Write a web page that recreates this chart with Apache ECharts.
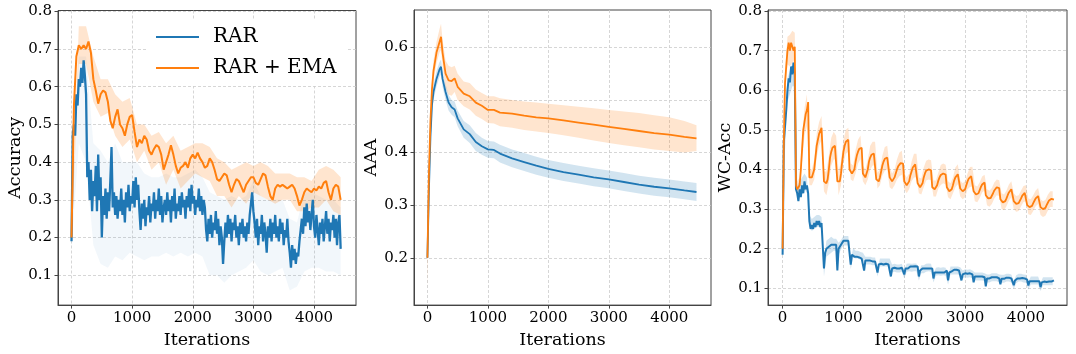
<!DOCTYPE html>
<html><head><meta charset="utf-8">
<script src="https://cdn.jsdelivr.net/npm/echarts@6/dist/echarts.min.js"></script>
<style>html,body{margin:0;padding:0;background:#fff}#c{width:1076px;height:354px}</style>
</head><body><div id="c"></div>
<script>
// ---------- tick labels ----------
const X_TICKS = [0, 1000, 2000, 3000, 4000];
const ACC_YTICKS = [0.1, 0.2, 0.3, 0.4, 0.5, 0.6, 0.7, 0.8];
const AAA_YTICKS = [0.2, 0.3, 0.4, 0.5, 0.6];
const WC_YTICKS = [0.1, 0.2, 0.3, 0.4, 0.5, 0.6, 0.7, 0.8];
const Y_NAMES = ['Accuracy', 'AAA', 'WC-Acc'];
const X_NAME = 'Iterations';
const SERIES_NAMES = ['RAR', 'RAR + EMA'];

// ---------- Accuracy (panel 1) ----------
// RAR mean, iterations 0..4440 every 20
const ACC_RAR_STEP = 20;
const ACC_RAR = [
0.19,0.47,0.50,0.47,0.58,0.55,0.62,0.60,0.65,0.61,
0.67,0.63,0.58,0.36,0.40,0.30,0.38,0.27,0.35,0.31,
0.39,0.27,0.42,0.30,0.36,0.20,0.31,0.26,0.33,0.25,
0.32,0.27,0.35,0.44,0.28,0.32,0.26,0.31,0.25,0.30,
0.27,0.33,0.26,0.30,0.24,0.32,0.28,0.34,0.27,0.31,
0.29,0.35,0.28,0.36,0.30,0.34,0.27,0.22,0.29,0.25,
0.30,0.23,0.28,0.26,0.31,0.24,0.29,0.27,0.32,0.25,
0.30,0.27,0.33,0.26,0.31,0.24,0.28,0.30,0.26,0.32,
0.27,0.30,0.24,0.31,0.27,0.33,0.25,0.29,0.27,0.31,
0.26,0.32,0.28,0.30,0.25,0.31,0.28,0.33,0.27,0.34,
0.29,0.31,0.26,0.30,0.28,0.33,0.27,0.31,0.26,0.30,
0.28,0.22,0.19,0.25,0.21,0.26,0.20,0.24,0.22,0.27,
0.21,0.25,0.18,0.23,0.20,0.13,0.19,0.24,0.20,0.26,
0.21,0.25,0.19,0.24,0.22,0.26,0.20,0.23,0.18,0.24,
0.21,0.25,0.20,0.23,0.19,0.24,0.21,0.26,0.29,0.32,
0.27,0.24,0.20,0.25,0.18,0.23,0.21,0.26,0.19,0.24,
0.21,0.16,0.23,0.20,0.25,0.19,0.24,0.21,0.26,0.20,
0.23,0.19,0.25,0.21,0.24,0.18,0.22,0.20,0.25,0.19,
0.16,0.12,0.18,0.14,0.17,0.13,0.16,0.15,0.19,0.22,
0.25,0.21,0.28,0.23,0.29,0.24,0.27,0.22,0.26,0.30,
0.23,0.20,0.26,0.22,0.18,0.24,0.21,0.25,0.19,0.23,
0.27,0.21,0.25,0.19,0.24,0.22,0.26,0.20,0.25,0.18,
0.24,0.26,0.17];
// RAR + EMA mean, iterations 0..4440 every 40
const ACC_EMA_STEP = 40;
const ACC_EMA = [
0.20,0.55,0.68,0.71,0.70,0.71,0.70,0.72,0.69,0.62,
0.59,0.555,0.58,0.59,0.585,0.56,0.51,0.49,0.52,0.54,
0.50,0.49,0.47,0.50,0.52,0.525,0.48,0.44,0.46,0.45,
0.47,0.46,0.43,0.42,0.435,0.445,0.44,0.42,0.38,0.40,
0.42,0.445,0.42,0.39,0.37,0.385,0.39,0.40,0.385,0.41,
0.42,0.41,0.425,0.41,0.40,0.385,0.39,0.41,0.40,0.38,
0.355,0.35,0.36,0.37,0.365,0.34,0.32,0.34,0.355,0.35,
0.335,0.32,0.34,0.35,0.36,0.36,0.345,0.34,0.355,0.37,
0.365,0.335,0.31,0.30,0.33,0.34,0.335,0.34,0.335,0.33,
0.335,0.34,0.33,0.31,0.285,0.30,0.32,0.33,0.325,0.32,
0.33,0.325,0.335,0.33,0.345,0.35,0.32,0.30,0.33,0.34,
0.335,0.30];
// shaded bands, iterations 0..4440 every 120
const ACC_BAND_STEP = 120;
const ACC_RAR_HI = [0.20,0.68,0.68,0.45,0.43,0.40,0.45,0.40,0.40,0.40,0.37,0.36,0.36,0.37,0.36,0.36,0.37,0.38,0.36,0.32,0.31,0.30,0.31,0.30,0.31,0.35,0.31,0.30,0.30,0.30,0.25,0.24,0.32,0.32,0.31,0.30,0.30,0.28];
const ACC_RAR_LO = [0.17,0.45,0.40,0.18,0.13,0.12,0.15,0.14,0.16,0.15,0.14,0.15,0.15,0.16,0.15,0.16,0.15,0.16,0.15,0.10,0.10,0.08,0.10,0.11,0.12,0.14,0.11,0.10,0.11,0.12,0.06,0.07,0.11,0.12,0.12,0.11,0.11,0.10];
const ACC_EMA_HI = [0.21,0.76,0.76,0.68,0.62,0.62,0.58,0.56,0.57,0.50,0.50,0.47,0.48,0.45,0.47,0.43,0.44,0.45,0.45,0.44,0.41,0.40,0.38,0.39,0.40,0.39,0.40,0.39,0.37,0.37,0.37,0.36,0.36,0.35,0.38,0.39,0.38,0.36];
const ACC_EMA_LO = [0.19,0.66,0.66,0.56,0.52,0.53,0.47,0.44,0.46,0.40,0.43,0.38,0.40,0.34,0.38,0.33,0.35,0.37,0.36,0.35,0.31,0.31,0.28,0.31,0.29,0.32,0.31,0.30,0.29,0.30,0.30,0.27,0.27,0.28,0.28,0.30,0.27,0.26];

// ---------- AAA (panel 2) ----------
const AAA_X = [0,25,50,75,100,150,200,225,250,300,350,400,450,500,600,700,800,900,1000,1100,1200,1400,1600,1800,2000,2250,2500,2750,3000,3250,3500,3750,4000,4250,4450];
const AAA_RAR = [0.20,0.33,0.43,0.49,0.515,0.54,0.558,0.563,0.54,0.515,0.495,0.486,0.482,0.465,0.444,0.435,0.42,0.412,0.406,0.405,0.398,0.389,0.382,0.375,0.369,0.363,0.358,0.353,0.349,0.344,0.339,0.335,0.332,0.328,0.325];
const AAA_RAR_HI = [0.21,0.345,0.445,0.505,0.53,0.555,0.572,0.577,0.555,0.53,0.51,0.50,0.497,0.48,0.46,0.452,0.437,0.428,0.422,0.421,0.415,0.406,0.399,0.392,0.386,0.38,0.375,0.37,0.366,0.361,0.356,0.352,0.349,0.345,0.342];
const AAA_RAR_LO = [0.19,0.315,0.415,0.475,0.50,0.525,0.544,0.549,0.525,0.50,0.48,0.472,0.467,0.45,0.428,0.418,0.403,0.396,0.39,0.389,0.381,0.372,0.365,0.358,0.352,0.346,0.341,0.336,0.332,0.327,0.322,0.318,0.315,0.311,0.308];
const AAA_EMA = [0.20,0.36,0.46,0.52,0.555,0.59,0.61,0.62,0.59,0.55,0.537,0.536,0.541,0.525,0.512,0.507,0.495,0.489,0.481,0.481,0.476,0.474,0.47,0.467,0.465,0.461,0.457,0.453,0.449,0.445,0.441,0.437,0.434,0.43,0.427];
const AAA_EMA_HI = [0.22,0.38,0.48,0.54,0.575,0.61,0.635,0.645,0.615,0.575,0.565,0.562,0.565,0.55,0.535,0.532,0.52,0.513,0.507,0.507,0.503,0.50,0.497,0.495,0.493,0.49,0.487,0.484,0.481,0.478,0.475,0.471,0.467,0.46,0.452];
const AAA_EMA_LO = [0.14,0.33,0.44,0.50,0.535,0.57,0.59,0.595,0.565,0.525,0.51,0.508,0.515,0.50,0.488,0.482,0.47,0.464,0.456,0.455,0.45,0.447,0.443,0.44,0.437,0.433,0.428,0.423,0.418,0.414,0.41,0.406,0.403,0.40,0.403];

// ---------- WC-Acc (panel 3) ----------
// means, iterations 0..4460 every 20
const WC_STEP = 20;
const WC_RAR = [
0.185,0.47,0.47,0.55,0.60,0.63,0.62,0.66,0.64,0.67,
0.64,0.35,0.34,0.32,0.35,0.33,0.36,0.34,0.37,0.35,
0.36,0.34,0.27,0.25,0.26,0.25,0.265,0.255,0.27,0.26,
0.27,0.255,0.265,0.26,0.15,0.19,0.20,0.195,0.205,0.20,
0.21,0.205,0.21,0.215,0.21,0.145,0.20,0.205,0.21,0.215,
0.22,0.215,0.22,0.225,0.22,0.225,0.16,0.185,0.19,0.18,
0.185,0.18,0.185,0.178,0.182,0.175,0.18,0.145,0.17,0.175,
0.17,0.168,0.17,0.165,0.168,0.165,0.168,0.165,0.14,0.16,
0.165,0.162,0.165,0.16,0.165,0.162,0.165,0.16,0.165,0.13,
0.15,0.155,0.152,0.155,0.15,0.153,0.15,0.155,0.152,0.155,
0.135,0.15,0.152,0.15,0.153,0.155,0.152,0.155,0.153,0.156,
0.153,0.155,0.13,0.145,0.148,0.15,0.148,0.15,0.152,0.15,
0.153,0.15,0.152,0.15,0.125,0.14,0.142,0.14,0.143,0.14,
0.142,0.14,0.143,0.14,0.142,0.145,0.12,0.14,0.145,0.143,
0.145,0.147,0.145,0.147,0.145,0.145,0.143,0.12,0.135,0.14,
0.138,0.14,0.137,0.14,0.138,0.135,0.135,0.115,0.13,0.132,
0.13,0.132,0.13,0.132,0.13,0.13,0.128,0.105,0.125,0.127,
0.125,0.127,0.128,0.127,0.128,0.127,0.128,0.127,0.125,0.11,
0.124,0.125,0.124,0.125,0.127,0.125,0.127,0.125,0.125,0.124,
0.108,0.12,0.123,0.125,0.127,0.125,0.127,0.126,0.125,0.125,
0.124,0.122,0.107,0.118,0.12,0.118,0.12,0.118,0.12,0.118,
0.12,0.118,0.103,0.115,0.118,0.117,0.118,0.116,0.118,0.117,
0.118,0.117,0.118,0.12];
const WC_EMA = [
0.20,0.47,0.62,0.66,0.70,0.72,0.70,0.72,0.71,0.70,
0.71,0.36,0.35,0.345,0.36,0.40,0.45,0.50,0.52,0.54,
0.55,0.57,0.38,0.38,0.38,0.385,0.40,0.43,0.46,0.475,
0.49,0.495,0.505,0.50,0.37,0.365,0.365,0.375,0.40,0.43,
0.445,0.455,0.46,0.46,0.455,0.37,0.365,0.37,0.39,0.42,
0.445,0.46,0.47,0.475,0.475,0.40,0.395,0.39,0.39,0.40,
0.42,0.435,0.445,0.452,0.456,0.455,0.39,0.385,0.38,0.385,
0.40,0.42,0.43,0.437,0.44,0.44,0.44,0.375,0.372,0.37,
0.38,0.395,0.41,0.42,0.427,0.43,0.43,0.43,0.38,0.375,
0.37,0.37,0.38,0.39,0.40,0.408,0.413,0.416,0.417,0.415,
0.37,0.365,0.36,0.36,0.37,0.385,0.395,0.405,0.41,0.413,
0.41,0.365,0.36,0.355,0.357,0.365,0.38,0.39,0.397,0.40,
0.40,0.40,0.398,0.355,0.352,0.35,0.352,0.36,0.372,0.38,
0.386,0.39,0.39,0.39,0.387,0.355,0.35,0.345,0.345,0.35,
0.36,0.372,0.38,0.385,0.388,0.388,0.352,0.348,0.345,0.345,
0.35,0.36,0.37,0.377,0.381,0.383,0.382,0.345,0.34,0.337,
0.337,0.34,0.348,0.356,0.362,0.366,0.367,0.335,0.33,0.327,
0.326,0.328,0.333,0.34,0.347,0.352,0.355,0.356,0.353,0.325,
0.32,0.317,0.317,0.32,0.327,0.335,0.342,0.347,0.35,0.349,
0.32,0.315,0.313,0.312,0.315,0.32,0.327,0.334,0.338,0.341,
0.34,0.31,0.307,0.305,0.305,0.308,0.315,0.321,0.327,0.331,
0.333,0.332,0.305,0.302,0.30,0.30,0.303,0.31,0.316,0.322,
0.325,0.326,0.325,0.324];
// band half-widths at every 40 iterations (0..4440)
const WC_BAND_STEP = 40;
const WC_RAR_W = [
0.005,0.02,0.03,0.03,0.03,0.03,0.02,0.02,0.02,0.02,
0.02,0.015,0.015,0.015,0.015,0.015,0.015,0.02,0.02,0.02,
0.02,0.015,0.015,0.015,0.012,0.012,0.012,0.012,0.012,0.012,
0.01,0.01,0.01,0.01,0.01,0.01,0.01,0.01,0.01,0.01,
0.01,0.01,0.01,0.01,0.01,0.01,0.01,0.01,0.01,0.01,
0.01,0.01,0.01,0.01,0.01,0.01,0.01,0.01,0.01,0.01,
0.01,0.01,0.01,0.01,0.01,0.01,0.01,0.01,0.01,0.01,
0.01,0.01,0.01,0.01,0.01,0.01,0.01,0.01,0.01,0.01,
0.01,0.01,0.01,0.01,0.01,0.01,0.01,0.01,0.01,0.01,
0.01,0.01,0.01,0.01,0.01,0.01,0.01,0.01,0.01,0.01,
0.01,0.01,0.01,0.01,0.01,0.01,0.01,0.01,0.01,0.01,
0.01,0.01];
const WC_EMA_W = [
0.01,0.03,0.035,0.04,0.04,0.035,0.02,0.02,0.03,0.035,
0.04,0.02,0.02,0.025,0.03,0.03,0.03,0.025,0.03,0.035,
0.035,0.035,0.03,0.03,0.03,0.03,0.03,0.03,0.02,0.02,
0.03,0.03,0.03,0.02,0.02,0.025,0.03,0.03,0.03,0.02,
0.02,0.025,0.03,0.03,0.025,0.02,0.02,0.025,0.03,0.03,
0.02,0.02,0.02,0.025,0.03,0.03,0.02,0.02,0.025,0.025,
0.025,0.025,0.02,0.02,0.02,0.025,0.025,0.025,0.02,0.02,
0.02,0.025,0.025,0.02,0.02,0.02,0.02,0.025,0.025,0.02,
0.02,0.02,0.02,0.02,0.02,0.02,0.02,0.02,0.02,0.02,
0.02,0.02,0.02,0.02,0.02,0.02,0.02,0.02,0.02,0.02,
0.02,0.02,0.02,0.02,0.02,0.02,0.02,0.02,0.02,0.02,
0.02,0.02];

// ---------- styling ----------
const FONT = 'DejaVu Serif';
const BLUE = '#1f77b4', ORANGE = '#ff7f0e';
const AXC = '#444';

function pts(step, vals) { return vals.map((v, i) => [i * step, v]); }
function ptsX(xs, vals) { return vals.map((v, i) => [xs[i], v]); }

function line(gi, name, data, color, w) {
  return { type: 'line', name, xAxisIndex: gi, yAxisIndex: gi, data, color,
    showSymbol: false, symbol: 'none', z: 3, silent: true,
    lineStyle: { color, width: w || 1.8 }, itemStyle: { color } };
}
function band(gi, rows, color, op) {
  return { type: 'custom', xAxisIndex: gi, yAxisIndex: gi, data: rows, silent: true, z: 2,
    encode: { x: 0, y: [1, 2] },
    renderItem: (params, api) => {
      if (params.dataIndex !== 0) return null;
      const up = rows.map(r => api.coord([r[0], r[2]]));
      const dn = rows.map(r => api.coord([r[0], r[1]])).reverse();
      return { type: 'polygon', shape: { points: up.concat(dn) }, style: { fill: color, opacity: op } };
    } };
}
function bandLH(step, lo, hi) { return lo.map((l, i) => [i * step, l, hi[i]]); }
function bandLHx(xs, lo, hi) { return lo.map((l, i) => [xs[i], l, hi[i]]); }
function bandW(meanStep, mean, step, w) {
  const k = step / meanStep;
  return w.map((d, i) => [i * step, mean[i * k] - d, mean[i * k] + d]);
}

const GRIDS = [
  { left: 58, top: 10.5, width: 298, height: 295 },
  { left: 414, top: 10, width: 297, height: 295.7 },
  { left: 768, top: 10, width: 299, height: 295.7 }
];
const YR = [[0.021, 0.802, ACC_YTICKS], [0.110, 0.671, AAA_YTICKS], [0.0577, 0.8025, WC_YTICKS]];
const XR = [[-223, 4693], [-222, 4690], [-240, 4675]];

const grid = GRIDS.map(g => Object.assign({ show: true, borderColor: AXC, borderWidth: 1, backgroundColor: 'transparent' }, g));
const xAxis = GRIDS.map((g, i) => ({
  type: 'value', gridIndex: i, min: XR[i][0], max: XR[i][1], minInterval: 1000, maxInterval: 1000,
  name: X_NAME, nameLocation: 'middle', nameGap: 21,
  nameTextStyle: { fontFamily: FONT, fontSize: 17.5, color: '#000' },
  axisLine: { show: true, onZero: false, lineStyle: { color: AXC, width: 1 } },
  axisTick: { show: true, length: 3.5, lineStyle: { color: AXC }, customValues: X_TICKS },
  axisLabel: { fontFamily: FONT, fontSize: 15, color: '#000', margin: 6, customValues: X_TICKS,
    formatter: v => (v % 1000 === 0 ? String(v) : '') },
  splitLine: { show: true, lineStyle: { color: '#cccccc', type: [3, 2], width: 0.8 } }
}));
const yAxis = GRIDS.map((g, i) => ({
  type: 'value', gridIndex: i, min: YR[i][0], max: YR[i][1], minInterval: 0.1, maxInterval: 0.1,
  name: Y_NAMES[i], nameLocation: 'middle', nameGap: 34, nameRotate: 90,
  nameTextStyle: { fontFamily: FONT, fontSize: 17.5, color: '#000' },
  axisLine: { show: true, onZero: false, lineStyle: { color: AXC, width: 1 } },
  axisTick: { show: true, length: 3.5, lineStyle: { color: AXC }, customValues: YR[i][2] },
  axisLabel: { fontFamily: FONT, fontSize: 15, color: '#000', margin: 6, customValues: YR[i][2],
    formatter: v => (Math.abs(v * 10 - Math.round(v * 10)) < 1e-6 ? v.toFixed(1) : '') },
  splitLine: { show: true, lineStyle: { color: '#cccccc', type: [3, 2], width: 0.8 } }
}));

const series = [
  band(0, bandLH(ACC_BAND_STEP, ACC_RAR_LO, ACC_RAR_HI), BLUE, 0.06),
  band(0, bandLH(ACC_BAND_STEP, ACC_EMA_LO, ACC_EMA_HI), ORANGE, 0.2),
  line(0, SERIES_NAMES[0], pts(ACC_RAR_STEP, ACC_RAR), BLUE, 2.3),
  line(0, SERIES_NAMES[1], pts(ACC_EMA_STEP, ACC_EMA), ORANGE, 2),

  band(1, bandLHx(AAA_X, AAA_RAR_LO, AAA_RAR_HI), BLUE, 0.2),
  band(1, bandLHx(AAA_X, AAA_EMA_LO, AAA_EMA_HI), ORANGE, 0.2),
  line(1, SERIES_NAMES[0], ptsX(AAA_X, AAA_RAR), BLUE),
  line(1, SERIES_NAMES[1], ptsX(AAA_X, AAA_EMA), ORANGE),

  band(2, bandW(WC_STEP, WC_RAR, WC_BAND_STEP, WC_RAR_W), BLUE, 0.2),
  band(2, bandW(WC_STEP, WC_EMA, WC_BAND_STEP, WC_EMA_W), ORANGE, 0.2),
  line(2, SERIES_NAMES[0], pts(WC_STEP, WC_RAR), BLUE, 2),
  line(2, SERIES_NAMES[1], pts(WC_STEP, WC_EMA), ORANGE)
];

const chart = echarts.init(document.getElementById('c'), null, { renderer: 'canvas' });
chart.setOption({
  animation: false,
  backgroundColor: '#fff',
  grid, xAxis, yAxis, series,
  legend: {
    data: SERIES_NAMES, orient: 'vertical', left: 148, top: 19,
    icon: 'rect', itemWidth: 43, itemHeight: 2, itemGap: 11,
    backgroundColor: '#fff', padding: [8, 10, 8, 8], selectedMode: false,
    textStyle: { fontFamily: FONT, fontSize: 20, color: '#000', padding: [0, 0, 0, 9] }
  }
});
</script></body></html>
